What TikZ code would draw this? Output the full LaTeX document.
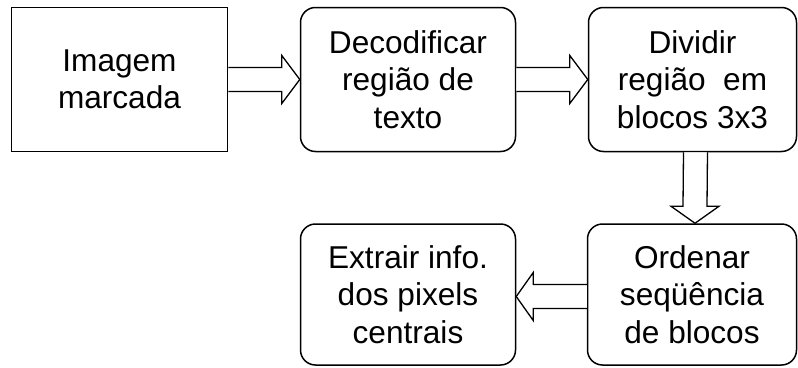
\documentclass[tikz,border=0pt]{standalone}
\usepackage{fontspec}
\setmainfont{Liberation Sans}
\usetikzlibrary{calc}
\begin{document}
\begin{tikzpicture}[x=1pt,y=-1pt,
  box/.style={draw=black,line width=1.5pt,fill=white,align=center,inner sep=0pt,
    font=\fontsize{31.6}{37.3}\selectfont},
  sqbox/.style={box},
  rbox/.style={box,rounded corners=15pt},
  blockarrow/.style={draw=black,line width=1.3pt,fill=white,line join=miter}]
\useasboundingbox (0,0) rectangle (798,367);
\node[sqbox,minimum width=216pt,minimum height=144pt] (a) at (119.5,79.5) {Imagem\\marcada};
\node[rbox,minimum width=215pt,minimum height=144pt] (b) at (408,79.5) {Decodificar\\região de\\texto};
\node[rbox,minimum width=208pt,minimum height=144pt] (c) at (692.5,79.5) {Dividir\\região\ \ em\\blocos 3x3};
\node[rbox,minimum width=209pt,minimum height=141pt] (d) at (692,294.5) {Ordenar\\seqüência\\de blocos};
\node[rbox,minimum width=215pt,minimum height=141pt] (e) at (408,294.5) {Extrair info.\\dos pixels\\centrais};
% a -> b
\draw[blockarrow] ($(a.east)+(0,-12)$) -- ($(b.west)+(-18,-12)$) -- ($(b.west)+(-18,-24)$) -- (b.west)
  -- ($(b.west)+(-18,24)$) -- ($(b.west)+(-18,12)$) -- ($(a.east)+(0,12)$);
% b -> c
\draw[blockarrow] ($(b.east)+(0,-12)$) -- ($(c.west)+(-18,-12)$) -- ($(c.west)+(-18,-24)$) -- (c.west)
  -- ($(c.west)+(-18,24)$) -- ($(c.west)+(-18,12)$) -- ($(b.east)+(0,12)$);
% c -> d
\draw[blockarrow] ($(c.south)+(-9,0)$) -- ($(d.north)+(-9,-17)$) -- ($(d.north)+(-21,-17)$) -- ($(d.north)+(3,0)$)
  -- ($(d.north)+(27,-17)$) -- ($(d.north)+(15,-17)$) -- ($(c.south)+(15,0)$);
% d -> e
\draw[blockarrow] ($(d.west)+(0,-10)$) -- ($(e.east)+(17,-10)$) -- ($(e.east)+(17,-22)$) -- ($(e.east)+(0,2)$)
  -- ($(e.east)+(17,26)$) -- ($(e.east)+(17,14)$) -- ($(d.west)+(0,14)$);
\end{tikzpicture}
\end{document}
